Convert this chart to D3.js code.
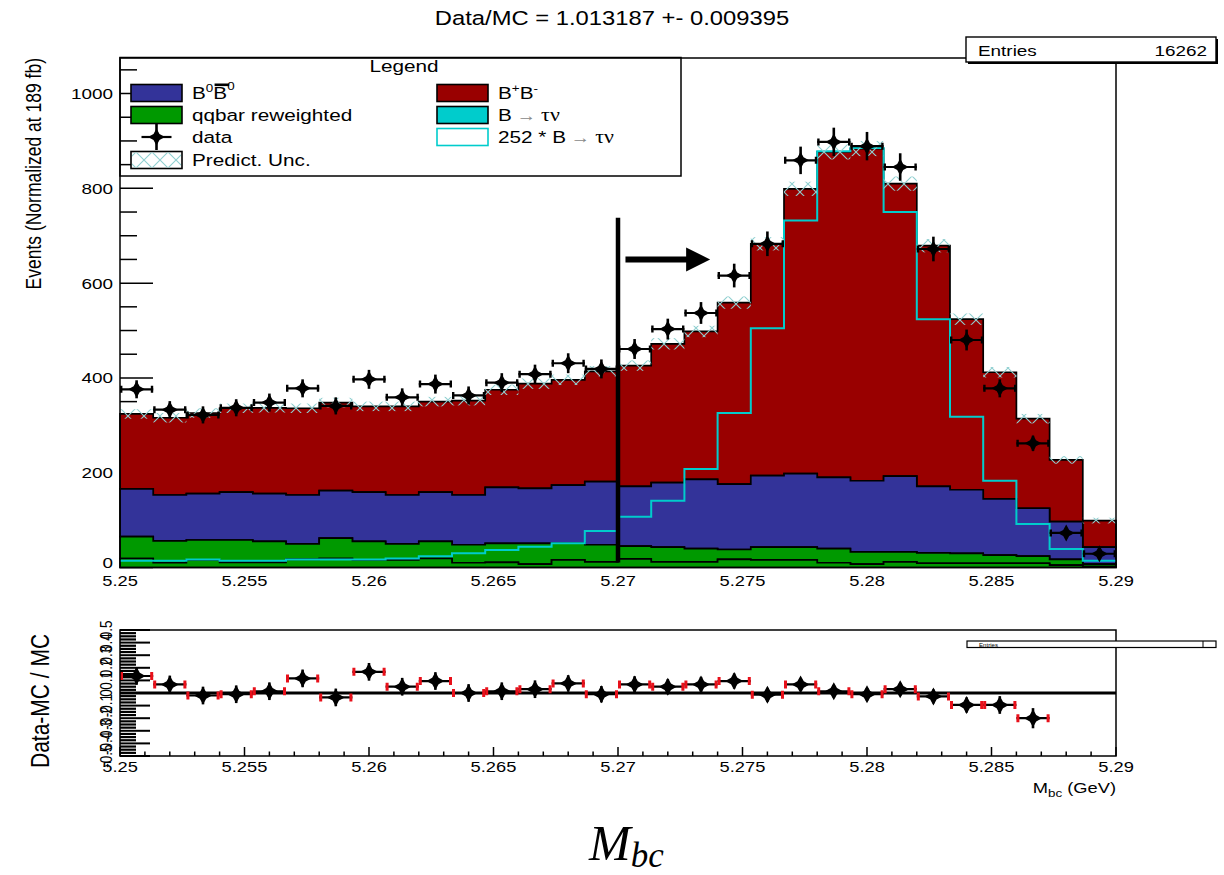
<!DOCTYPE html>
<html>
<head>
<meta charset="utf-8">
<script src="https://cdn.jsdelivr.net/npm/d3@7"></script>
<style>
  html, body { margin: 0; padding: 0; background: #fff; }
  svg { display: block; font-family: "Liberation Sans", Arial, Helvetica, sans-serif; }
  text { fill: #000; }
</style>
</head>
<body>
<svg id="chart" width="1224" height="875"></svg>
<script>
// ---- M_bc histogram: 30 bins from 5.25 to 5.29 GeV ----
const xMin = 5.25, xMax = 5.29, nBins = 30;
const binEdges = d3.range(nBins + 1).map(i => xMin + i * (xMax - xMin) / nBins);

// stacked MC components (events per bin)
const qqbarLow  = [19,10,16,11,11,17,19,16,16,19,10,11,7,16,12,18,12,12,17,16,16,10,7,12,9,9,9,9,5,2];
const qqbarHigh = [46,46,42,47,44,33,43,39,34,36,38,40,44,36,36,27,31,28,21,27,27,30,26,21,22,21,17,15,12,5];
const b0b0bar   = [101,97,98,101,101,103,100,104,103,104,105,118,116,122,133,126,136,146,138,151,155,150,150,160,140,134,119,101,80,36];
const bplusbminus = [158,163,170,177,181,183,186,181,187,191,199,206,221,222,233,255,293,312,383,489,601,687,701,617,508,360,267,189,130,56];

// 252 * B -> tau nu (overlay line)
const signal252 = [14,14,17,14,14,17,17,17,19,24,30,37,44,51,77,107,141,208,326,505,732,878,885,750,524,318,183,92,39,14];

// MC prediction uncertainty (half width of hatched band)
const predUnc = [10,10,10,10,10,10,10,10,10,10,10,11,11,11,11,11,12,12,13,14,15,16,16,15,14,12,11,10,8,6];

// data
const dataVals = [376,333,322,337,348,378,341,397,359,387,363,390,408,431,419,461,503,537,616,683,859,898,889,845,672,480,378,262,73,29];
const dataErr  = [19,18,18,18,19,19,18,20,19,20,19,20,20,21,20,21,22,23,25,26,29,30,30,29,26,22,19,16,9,5];

// (Data-MC)/MC per bin; the last two bins fall below the panel range
const ratioVals = [0.135,0.068,-0.02,-0.01,0.014,0.116,-0.035,0.168,0.05,0.095,0,0.014,0.03,0.076,-0.01,
                   0.068,0.05,0.068,0.095,-0.014,0.068,0.014,-0.01,0.03,-0.027,-0.095,-0.095,-0.2,null,null];
const ratioErr  = [0.07,0.07,0.07,0.07,0.07,0.07,0.07,0.07,0.07,0.07,0.07,0.07,0.07,0.065,0.065,
                   0.065,0.06,0.06,0.06,0.055,0.05,0.05,0.05,0.05,0.055,0.06,0.07,0.08,0.1,0.1];

// tick labels
const xTickLabels = ["5.25","5.255","5.26","5.265","5.27","5.275","5.28","5.285","5.29"];
const yTickLabels = ["0","200","400","600","800","1000"];
const ratioTickLabels = ["0.5","0.4","0.3","0.2","0.1","0","-0.1","-0.2","-0.3","-0.4","-0.5"];

// selection cut and annotation
const cutValue = 5.27, cutTop = 738;
const arrowFrom = 5.2703, arrowTo = 5.2737, arrowLevel = 650;

// ---- layout ----
const SX = 1.22;            // horizontal stretch of all ROOT-style text
const serif = "'Liberation Serif', 'DejaVu Serif', serif";
const svg = d3.select("#chart");
const x = d3.scaleLinear().domain([xMin, xMax]).range([120, 1116]);
const y = d3.scaleLinear().domain([0, 1075]).range([567.5, 58]);
const yr = d3.scaleLinear().domain([-0.5, 0.5]).range([756, 630]);

const colBpm = "#990000", colB0 = "#333399", colQQ = "#009900", colSig = "#00cccc", colHatch = "#8fcfd0";

const defs = svg.append("defs");
defs.append("pattern").attr("id", "hatch").attr("patternUnits", "userSpaceOnUse")
  .attr("width", 16).attr("height", 16)
  .append("path").attr("d", "M0,0L16,16M16,0L0,16")
  .attr("stroke", colHatch).attr("stroke-width", 1.1).attr("fill", "none");

function T(parent, px, py, o) {
  const t = parent.append("text")
    .attr("transform", `translate(${px},${py}) scale(${SX},1)` + (o.rot ? ` rotate(${o.rot})` : ""))
    .attr("font-size", o.size || 15)
    .attr("text-anchor", o.anchor || "start");
  if (o.base) t.attr("dominant-baseline", o.base);
  if (o.text !== undefined) t.text(o.text);
  return t;
}

function starPath(cx, cy, r, k) {
  return `M${cx},${cy - r}L${cx + k},${cy - k}L${cx + r},${cy}L${cx + k},${cy + k}L${cx},${cy + r}` +
         `L${cx - k},${cy + k}L${cx - r},${cy}L${cx - k},${cy - k}Z`;
}

// ---- upper panel ----
const upper = svg.append("g");

// y-axis ticks (drawn beneath the histograms)
const yMajor = yTickLabels.map(Number);
const yMinor = d3.range(0, 1076, 50).filter(v => v % 200 !== 0);
upper.selectAll(".ymaj").data(yMajor).join("line")
  .attr("x1", 120).attr("x2", 153).attr("y1", d => y(d)).attr("y2", d => y(d))
  .attr("stroke", "#000").attr("stroke-width", 1.5);
upper.selectAll(".ymin").data(yMinor).join("line")
  .attr("x1", 120).attr("x2", 137).attr("y1", d => y(d)).attr("y2", d => y(d))
  .attr("stroke", "#000").attr("stroke-width", 1.5);

// stacked MC
const rows = d3.range(nBins).map(i => ({
  qqLow: qqbarLow[i], qqHigh: qqbarHigh[i], b0: b0b0bar[i], bpm: bplusbminus[i]
}));
const stacked = d3.stack().keys(["qqLow", "qqHigh", "b0", "bpm"])(rows);
const layerColor = { qqLow: colQQ, qqHigh: colQQ, b0: colB0, bpm: colBpm };

function bandPath(layer) {
  let p = `M${x(binEdges[0])},${y(layer[0][1])}`;
  for (let i = 0; i < nBins; i++) {
    p += `L${x(binEdges[i])},${y(layer[i][1])}L${x(binEdges[i + 1])},${y(layer[i][1])}`;
  }
  for (let i = nBins - 1; i >= 0; i--) {
    p += `L${x(binEdges[i + 1])},${y(layer[i][0])}L${x(binEdges[i])},${y(layer[i][0])}`;
  }
  return p + "Z";
}
upper.selectAll(".band").data(stacked.slice().reverse()).join("path")
  .attr("d", bandPath)
  .attr("fill", d => layerColor[d.key])
  .attr("stroke", "#000").attr("stroke-width", 1.7).attr("stroke-linejoin", "miter");

// 252 x signal overlay
let sp = "";
signal252.forEach((v, i) => {
  sp += (i === 0 ? "M" : "L") + `${x(binEdges[i])},${y(v)}L${x(binEdges[i + 1])},${y(v)}`;
});
upper.append("path").attr("d", sp).attr("fill", "none")
  .attr("stroke", colSig).attr("stroke-width", 2);

// prediction uncertainty band
const totals = stacked[stacked.length - 1].map(d => d[1]);
upper.selectAll(".unc").data(d3.range(nBins)).join("rect")
  .attr("x", i => x(binEdges[i])).attr("width", i => x(binEdges[i + 1]) - x(binEdges[i]))
  .attr("y", i => y(totals[i] + predUnc[i]))
  .attr("height", i => y(totals[i] - predUnc[i]) - y(totals[i] + predUnc[i]))
  .attr("fill", "url(#hatch)");

// data points
const dataG = upper.selectAll(".pt").data(d3.range(nBins)).join("g");
dataG.append("line")
  .attr("x1", i => x(binEdges[i])).attr("x2", i => x(binEdges[i + 1]))
  .attr("y1", i => y(dataVals[i])).attr("y2", i => y(dataVals[i]))
  .attr("stroke", "#000").attr("stroke-width", 2.2);
dataG.append("path")
  .attr("d", i => {
    const yy = y(dataVals[i]), a = x(binEdges[i]) + 1.2, b = x(binEdges[i + 1]) - 1.2;
    return `M${a},${yy - 3.5}L${a},${yy + 3.5}M${b},${yy - 3.5}L${b},${yy + 3.5}`;
  })
  .attr("stroke", "#000").attr("stroke-width", 2.4);
dataG.append("line")
  .attr("x1", i => x((binEdges[i] + binEdges[i + 1]) / 2)).attr("x2", i => x((binEdges[i] + binEdges[i + 1]) / 2))
  .attr("y1", i => y(dataVals[i] + dataErr[i])).attr("y2", i => y(Math.max(0, dataVals[i] - dataErr[i])))
  .attr("stroke", "#000").attr("stroke-width", 2.6);
dataG.append("path")
  .attr("d", i => starPath(x((binEdges[i] + binEdges[i + 1]) / 2), y(dataVals[i]), 8.5, 3))
  .attr("fill", "#000");

// frame
upper.append("rect").attr("x", 120).attr("y", 58).attr("width", 996).attr("height", 567.5 - 58)
  .attr("fill", "none").attr("stroke", "#000").attr("stroke-width", 1.5);

// axis labels
yTickLabels.forEach(l => T(upper, 113, y(+l) - (l === "0" ? 5 : 0), { text: l, size: 15.5, anchor: "end", base: "central" }));
xTickLabels.forEach(l => T(upper, x(+l), 581, { text: l, size: 15, anchor: "middle", base: "central" }));
T(upper, 33, 58, { text: "Events (Normalized at 189 fb)", size: 17.5, anchor: "end", base: "central", rot: -90 });

// cut line and arrow
upper.append("line").attr("x1", x(cutValue)).attr("x2", x(cutValue))
  .attr("y1", y(cutTop)).attr("y2", y(0) - 5)
  .attr("stroke", "#000").attr("stroke-width", 4.5);
const ay = y(arrowLevel), ax0 = x(arrowFrom), ax1 = x(arrowTo);
upper.append("path")
  .attr("d", `M${ax0},${ay - 3}L${ax1 - 24},${ay - 3}L${ax1 - 24},${ay - 12}L${ax1},${ay}` +
             `L${ax1 - 24},${ay + 12}L${ax1 - 24},${ay + 3}L${ax0},${ay + 3}Z`)
  .attr("fill", "#000");

// title
T(svg, 612, 25, { text: "Data/MC = 1.013187 +- 0.009395", size: 19.5, anchor: "middle" });

// statistics box
svg.append("line").attr("x1", 968).attr("x2", 1218).attr("y1", 63).attr("y2", 63).attr("stroke", "#000").attr("stroke-width", 2);
svg.append("line").attr("x1", 1217).attr("x2", 1217).attr("y1", 39).attr("y2", 63).attr("stroke", "#000").attr("stroke-width", 2);
svg.append("rect").attr("x", 966).attr("y", 37).attr("width", 250).attr("height", 25)
  .attr("fill", "#fff").attr("stroke", "#000").attr("stroke-width", 1.4);
T(svg, 978, 56, { text: "Entries", size: 15.5 });
T(svg, 1207, 56, { text: "16262", size: 15.5, anchor: "end" });

// ---- legend ----
const leg = svg.append("g");
leg.append("rect").attr("x", 120).attr("y", 57.5).attr("width", 561).attr("height", 118.5)
  .attr("fill", "none").attr("stroke", "#000").attr("stroke-width", 1.5);
T(leg, 404, 66, { text: "Legend", size: 17, anchor: "middle", base: "central" });

const rowY = [93, 115, 137, 160];
const colSw = [131, 437], colTx = [192, 498], swW = 51, swH = 17;
function swatch(cx, ry, fill, stroke) {
  leg.append("rect").attr("x", cx).attr("y", ry - swH / 2).attr("width", swW).attr("height", swH)
    .attr("fill", fill).attr("stroke", stroke).attr("stroke-width", 1.6);
}
swatch(colSw[0], rowY[0], colB0, "#000");
swatch(colSw[1], rowY[0], colBpm, "#000");
swatch(colSw[0], rowY[1], colQQ, "#000");
swatch(colSw[1], rowY[1], colSig, "#000");
swatch(colSw[1], rowY[2], "#fff", colSig);
swatch(colSw[0], rowY[3], "#fff", "#000");
leg.append("rect").attr("x", colSw[0] + 1).attr("y", rowY[3] - swH / 2 + 1).attr("width", swW - 2).attr("height", swH - 2)
  .attr("fill", "url(#hatch)");

// data marker entry
const lx = colSw[0] + swW / 2, ly = rowY[2];
leg.append("line").attr("x1", lx).attr("x2", lx).attr("y1", ly - 14).attr("y2", ly + 13).attr("stroke", "#000").attr("stroke-width", 2.6);
leg.append("line").attr("x1", lx - 15).attr("x2", lx + 15).attr("y1", ly).attr("y2", ly).attr("stroke", "#000").attr("stroke-width", 2.2);
leg.append("path").attr("d", starPath(lx, ly, 8.5, 3)).attr("fill", "#000");

const base = 6;   // text baseline offset from row centre
// B0 B0bar
const g1 = leg.append("g").attr("transform", `translate(${colTx[0]},${rowY[0] + base}) scale(${SX},1)`);
const t1 = g1.append("text").attr("font-size", 17);
t1.append("tspan").text("B");
t1.append("tspan").attr("font-size", 11).attr("dy", -7).text("0");
t1.append("tspan").attr("dy", 7).text("B");
t1.append("tspan").attr("font-size", 11).attr("dy", -9).text("0");
g1.append("rect").attr("x", 18.5).attr("y", -15.5).attr("width", 12).attr("height", 2.6).attr("fill", "#000");
// B+ B-
const t2 = leg.append("text").attr("font-size", 17)
  .attr("transform", `translate(${colTx[1]},${rowY[0] + base}) scale(${SX},1)`);
t2.append("tspan").text("B");
t2.append("tspan").attr("font-size", 11).attr("dy", -7).text("+");
t2.append("tspan").attr("dy", 7).text("B");
t2.append("tspan").attr("font-size", 11).attr("dy", -7).text("-");

T(leg, colTx[0], rowY[1] + base, { text: "qqbar reweighted", size: 17 });
T(leg, colTx[0], rowY[2] + base, { text: "data", size: 17 });
T(leg, colTx[0], rowY[3] + base, { text: "Predict. Unc.", size: 17 });

function tauNu(t) {
  t.append("tspan").attr("fill", "#888").attr("font-size", 16).attr("font-family", serif).text(" \u2192 ");
  t.append("tspan").attr("font-family", serif).attr("font-size", 18).text("\u03c4\u03bd");
}
const t3 = T(leg, colTx[1], rowY[1] + base, { size: 17 });
t3.append("tspan").text("B");
tauNu(t3);
const t4 = T(leg, colTx[1], rowY[2] + base, { size: 17 });
t4.append("tspan").text("252 * B");
tauNu(t4);

// ---- ratio panel ----
const lower = svg.append("g");

// y ticks (dense comb of minors)
const rMajor = ratioTickLabels.map(Number);
const rMinor = d3.range(-20, 21).map(k => k * 0.025).filter(v => Math.abs(Math.round(v * 40)) % 4 !== 0);
lower.selectAll(".rmin").data(rMinor).join("line")
  .attr("x1", 120).attr("x2", 136).attr("y1", d => yr(d)).attr("y2", d => yr(d))
  .attr("stroke", "#000").attr("stroke-width", 2.2);
lower.selectAll(".rmaj").data(rMajor).join("line")
  .attr("x1", 120).attr("x2", 150).attr("y1", d => yr(d)).attr("y2", d => yr(d))
  .attr("stroke", "#000").attr("stroke-width", 2);

// x ticks
const xMajorT = xTickLabels.map(Number);
const xMinorT = d3.range(0, 41).map(k => xMin + k * 0.001).filter((v, k) => k % 5 !== 0);
lower.selectAll(".xmaj").data(xMajorT).join("line")
  .attr("x1", d => x(d)).attr("x2", d => x(d)).attr("y1", 756).attr("y2", 747)
  .attr("stroke", "#000").attr("stroke-width", 1.5);
lower.selectAll(".xmin").data(xMinorT).join("line")
  .attr("x1", d => x(d)).attr("x2", d => x(d)).attr("y1", 756).attr("y2", 751.5)
  .attr("stroke", "#000").attr("stroke-width", 1.5);

// zero reference
lower.append("line").attr("x1", 120).attr("x2", 1116).attr("y1", yr(0)).attr("y2", yr(0))
  .attr("stroke", "#000").attr("stroke-width", 3);

// ratio points
const shown = d3.range(nBins).filter(i => ratioVals[i] !== null);
const rG = lower.selectAll(".rp").data(shown).join("g");
rG.append("line")
  .attr("x1", i => x(binEdges[i])).attr("x2", i => x(binEdges[i + 1]))
  .attr("y1", i => yr(ratioVals[i])).attr("y2", i => yr(ratioVals[i]))
  .attr("stroke", "#000").attr("stroke-width", 2.2);
rG.append("path")
  .attr("d", i => {
    const yy = yr(ratioVals[i]), a = x(binEdges[i]) + 1.5, b = x(binEdges[i + 1]) - 1.5;
    return `M${a},${yy - 4}L${a},${yy + 4}M${b},${yy - 4}L${b},${yy + 4}`;
  })
  .attr("stroke", "#e8101a").attr("stroke-width", 3);
rG.append("line")
  .attr("x1", i => x((binEdges[i] + binEdges[i + 1]) / 2)).attr("x2", i => x((binEdges[i] + binEdges[i + 1]) / 2))
  .attr("y1", i => yr(ratioVals[i] + ratioErr[i])).attr("y2", i => yr(ratioVals[i] - ratioErr[i]))
  .attr("stroke", "#000").attr("stroke-width", 2.6);
rG.append("path")
  .attr("d", i => starPath(x((binEdges[i] + binEdges[i + 1]) / 2), yr(ratioVals[i]), 9, 3.2))
  .attr("fill", "#000");

// frame
lower.append("rect").attr("x", 120).attr("y", 630).attr("width", 996).attr("height", 126)
  .attr("fill", "none").attr("stroke", "#000").attr("stroke-width", 1.5);

// squashed statistics box
lower.append("rect").attr("x", 967).attr("y", 641).attr("width", 249).attr("height", 6.5)
  .attr("fill", "#fff").attr("stroke", "#000").attr("stroke-width", 1.2);
lower.append("line").attr("x1", 1203).attr("x2", 1203).attr("y1", 641).attr("y2", 647.5)
  .attr("stroke", "#000").attr("stroke-width", 1);
T(lower, 979, 646.5, { text: "Entries", size: 5 }).attr("fill", "#555");

// labels
ratioTickLabels.forEach(l => T(lower, 106, yr(+l), { text: l, size: 13.5, anchor: "middle", base: "central", rot: -90 }));
xTickLabels.forEach(l => T(lower, x(+l), 767, { text: l, size: 15, anchor: "middle", base: "central" }));
T(lower, 40, 701, { text: "Data-MC / MC", size: 21, anchor: "middle", base: "central", rot: -90 });
const xt = T(lower, 1116, 793, { size: 15, anchor: "end" });
xt.append("tspan").text("M");
xt.append("tspan").attr("font-size", 11).attr("dy", 4).text("bc");
xt.append("tspan").attr("dy", -4).text(" (GeV)");

// ---- variable name below the figure ----
const big = svg.append("text").attr("x", 589).attr("y", 860)
  .attr("font-family", serif).attr("font-style", "italic")
  .attr("font-size", 50);
big.append("tspan").text("M");
big.append("tspan").attr("font-size", 35).attr("dy", 7).text("bc");
</script>
</body>
</html>
